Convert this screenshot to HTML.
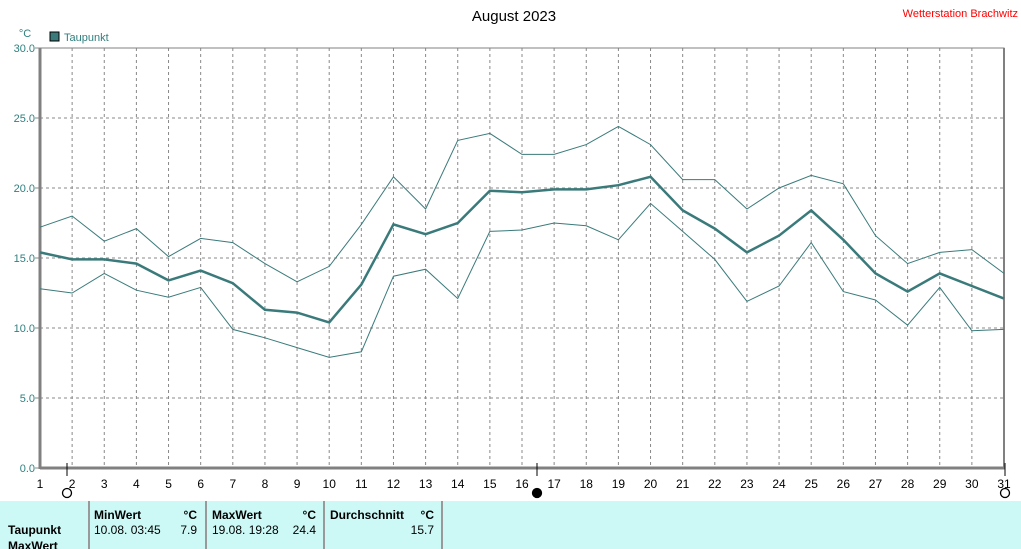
<!DOCTYPE html>
<html><head><meta charset="utf-8"><style>
body{margin:0;background:#fff;width:1021px;height:549px;overflow:hidden;font-family:"Liberation Sans",sans-serif;}
svg{position:absolute;left:0;top:0}
</style></head><body>
<svg width="1021" height="549" id="c">
<text x="514" y="21" font-size="15" text-anchor="middle" fill="#000">August 2023</text>
<text x="1018" y="17" font-size="11" text-anchor="end" fill="#ff0000">Wetterstation Brachwitz</text>
<text x="25" y="37" font-size="11" text-anchor="middle" fill="#2f7f7f">°C</text>
<rect x="50" y="32" width="9" height="9" fill="#3a7a7a" stroke="#000"/>
<text x="64" y="41" font-size="11" fill="#2f7f7f">Taupunkt</text>
<g id="grid"></g><g id="axes"></g><g id="series"></g>
<rect x="0" y="501" width="1021" height="48" fill="#ccf8f5"/>
<g font-size="12" font-weight="bold" fill="#000">
<text x="94" y="519">MinWert</text><text x="197" y="519" text-anchor="end">°C</text>
<text x="212" y="519">MaxWert</text><text x="316" y="519" text-anchor="end">°C</text>
<text x="330" y="519">Durchschnitt</text><text x="434" y="519" text-anchor="end">°C</text>
<text x="8" y="534">Taupunkt</text>
<text x="8" y="550">MaxWert</text>
</g>
<g font-size="12" fill="#000">
<text x="94" y="534">10.08.  03:45</text><text x="197" y="534" text-anchor="end">7.9</text>
<text x="212" y="534">19.08.  19:28</text><text x="316" y="534" text-anchor="end">24.4</text>
<text x="434" y="534" text-anchor="end">15.7</text>
</g>
<g stroke="#999" stroke-width="2"><line x1="89" y1="501" x2="89" y2="549"/><line x1="206" y1="501" x2="206" y2="549"/><line x1="324" y1="501" x2="324" y2="549"/><line x1="442" y1="501" x2="442" y2="549"/></g>
</svg>
<script>
const days=[1,2,3,4,5,6,7,8,9,10,11,12,13,14,15,16,17,18,19,20,21,22,23,24,25,26,27,28,29,30,31];
const meanVals=[15.4,14.9,14.9,14.6,13.4,14.1,13.2,11.3,11.1,10.4,13.1,17.4,16.7,17.5,19.8,19.7,19.9,19.9,20.2,20.8,18.4,17.1,15.4,16.6,18.4,16.3,13.9,12.6,13.9,13.0,12.1];
const maxVals=[17.2,18.0,16.2,17.1,15.1,16.4,16.1,14.6,13.3,14.4,17.4,20.8,18.5,23.4,23.9,22.4,22.4,23.1,24.4,23.1,20.6,20.6,18.5,20.0,20.9,20.3,16.6,14.6,15.4,15.6,13.9];
const minVals=[12.8,12.5,13.9,12.7,12.2,12.9,9.9,9.3,8.6,7.9,8.3,13.7,14.2,12.1,16.9,17.0,17.5,17.3,16.3,18.9,16.9,14.9,11.9,13.0,16.1,12.6,12.0,10.2,12.9,9.8,9.9];
const yTicks=[0,5,10,15,20,25,30];
const NS='http://www.w3.org/2000/svg';
const X0=40,X1=1004,Y0=468,Y1=48;
const xs=d=>X0+(d-1)*(X1-X0)/30;
const ys=v=>Y0-(v/30)*(Y0-Y1);
function mk(t,a,p){const e=document.createElementNS(NS,t);for(const k in a)e.setAttribute(k,a[k]);p.appendChild(e);return e;}
const grid=document.getElementById('grid'),axes=document.getElementById('axes'),ser=document.getElementById('series');
days.forEach(d=>{
 if(d>1&&d<31){const l=mk('line',{x1:xs(d),x2:xs(d),y1:Y1,y2:Y0,stroke:'#888','stroke-dasharray':'3,3'},grid);
 
 }
 const t=mk('text',{x:xs(d),y:488,'font-size':12,'text-anchor':'middle',fill:'#000'},axes);t.textContent=d;
 
 
});
yTicks.forEach(v=>{
 if(v>0&&v<30){const l=mk('line',{x1:X0,x2:X1,y1:ys(v),y2:ys(v),stroke:'#888','stroke-dasharray':'3,3'},grid);
 
 }
 const t=mk('text',{x:35,y:ys(v)+4,'font-size':11,'text-anchor':'end',fill:'#2f7f7f'},axes);t.textContent=v.toFixed(1);
 
 
 mk('line',{x1:35,x2:X0,y1:ys(v),y2:ys(v),stroke:'#888'},axes);
});
mk('rect',{x:X0,y:Y1,width:X1-X0,height:Y0-Y1,fill:'none',stroke:'#808080','stroke-width':1},axes);
mk('line',{x1:X0,x2:X0,y1:Y1,y2:Y0+1,stroke:'#808080','stroke-width':3},axes);
mk('line',{x1:X0,x2:X1+1,y1:Y0,y2:Y0,stroke:'#808080','stroke-width':3},axes);
mk('line',{x1:X1,x2:X1,y1:Y1,y2:Y0,stroke:'#808080','stroke-width':2},axes);
[[67,'none'],[537,'#000'],[1005,'none']].forEach(([x,f])=>{
 mk('line',{x1:x,x2:x,y1:463,y2:476,stroke:'#000'},axes);
 const c=mk('circle',{cx:x,cy:493,r:4.5,fill:f,stroke:'#000','stroke-width':1.3},axes);
 
 
});
function line(vals,w,name){const p=mk('polyline',{points:vals.map((v,i)=>xs(days[i])+','+ys(v)).join(' '),fill:'none',stroke:'#3a7a7a','stroke-width':w},ser);
 
 }
line(maxVals,1,'max-line');line(minVals,1,'min-line');line(meanVals,2.5,'mean-line');
</script>
</body></html>
